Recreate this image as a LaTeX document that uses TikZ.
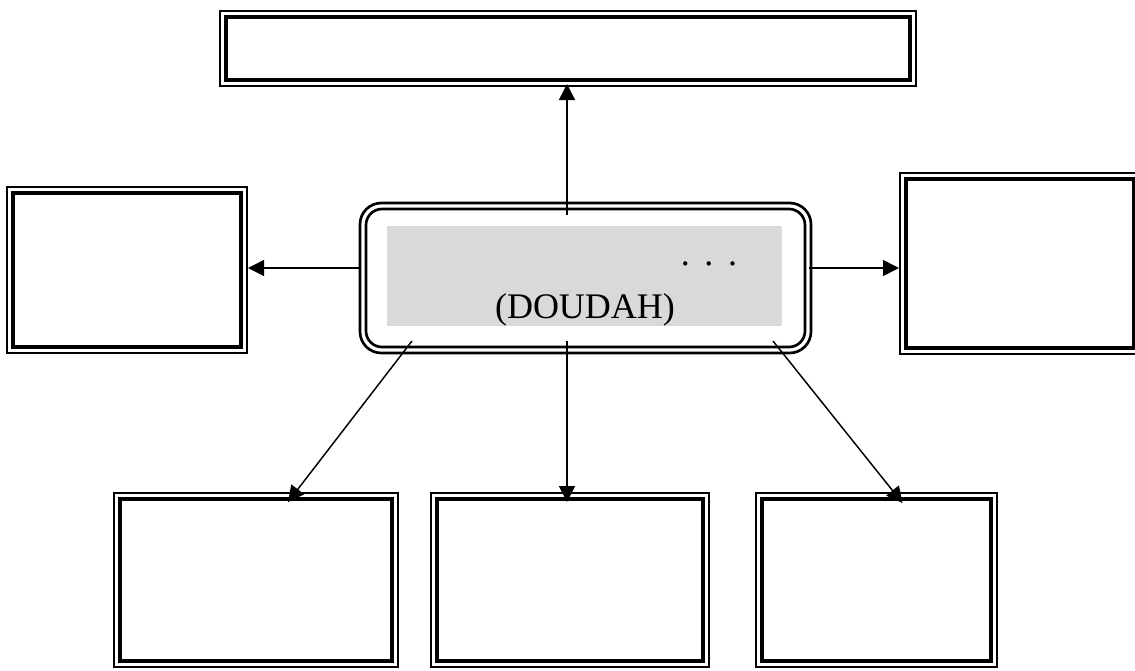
\documentclass[tikz,border=0pt]{standalone}
\usepackage{fontspec}
\setmainfont{Liberation Serif}
\usetikzlibrary{arrows.meta,fit,calc}
\definecolor{shadegray}{RGB}{217,217,217}
\begin{document}
\begin{tikzpicture}[x=0.75pt,y=-0.75pt,
  dbox/.style={draw, line width=1.5pt, inner sep=0pt,
    path picture={\draw[line width=2.3pt]
      ([shift={(6,6)}]path picture bounding box.north west) rectangle
      ([shift={(-6,-6)}]path picture bounding box.south east);}},
  cbox/.style={draw, line width=2pt, inner sep=0pt, rounded corners=16pt,
    path picture={\draw[line width=2pt, rounded corners=12pt]
      ([shift={(6,6)}]path picture bounding box.north west) rectangle
      ([shift={(-6,-6)}]path picture bounding box.south east);}},
  shadebox/.style={fill=shadegray, inner sep=0pt},
  arr/.style={-{Triangle[length=12pt,width=12pt]}, line width=1.1pt},
  lbl/.style={font=\fontsize{27}{32}\selectfont, inner sep=0pt, anchor=base}
]
\useasboundingbox (0,0) rectangle (1135,671);
\fill[white] (0,0) rectangle (1135,671);

% boxes
\node[dbox, fit={(220,11)(916,86)}] (top) {};
\node[dbox, fit={(7,187)(247,353)}] (lb) {};
\node[dbox, fit={(900,173)(1140,354)}] (rb) {};
\node[dbox, fit={(114,493)(398,667)}] (bl) {};
\node[dbox, fit={(431,493)(709,667)}] (bm) {};
\node[dbox, fit={(756,493)(997,667)}] (br) {};

% center box
\node[cbox, fit={(360,203)(811,353)}] (c) {};
\node[shadebox, fit={(387,226)(782,326)}] (shade) {};
\node[lbl] (dots) at (709,265) {.\hspace{11pt}.\hspace{11pt}.};
\node[lbl] (name) at (585,318) {(DOUDAH)};

% connector start points inside the center box
\coordinate (sT) at (567,215);
\coordinate (sL) at (360,268);
\coordinate (sR) at (809,268);
\coordinate (sBL) at (412,341);
\coordinate (sB) at (567,341);
\coordinate (sBR) at (773,341);

% connectors
\draw[arr] (sT) -- ($(sT |- top.south)+(0,-3)$);
\draw[arr] (sL) -- (sL -| lb.east);
\draw[arr] (sR) -- (sR -| rb.west);
\draw[arr] (sB) -- ($(sB |- bm.north)+(0,10)$);
\draw[arr] (sBL) -- ($(bl.north)+(32,10)$);
\draw[arr] (sBR) -- ($(br.north)+(26,11)$);
\end{tikzpicture}
\end{document}
